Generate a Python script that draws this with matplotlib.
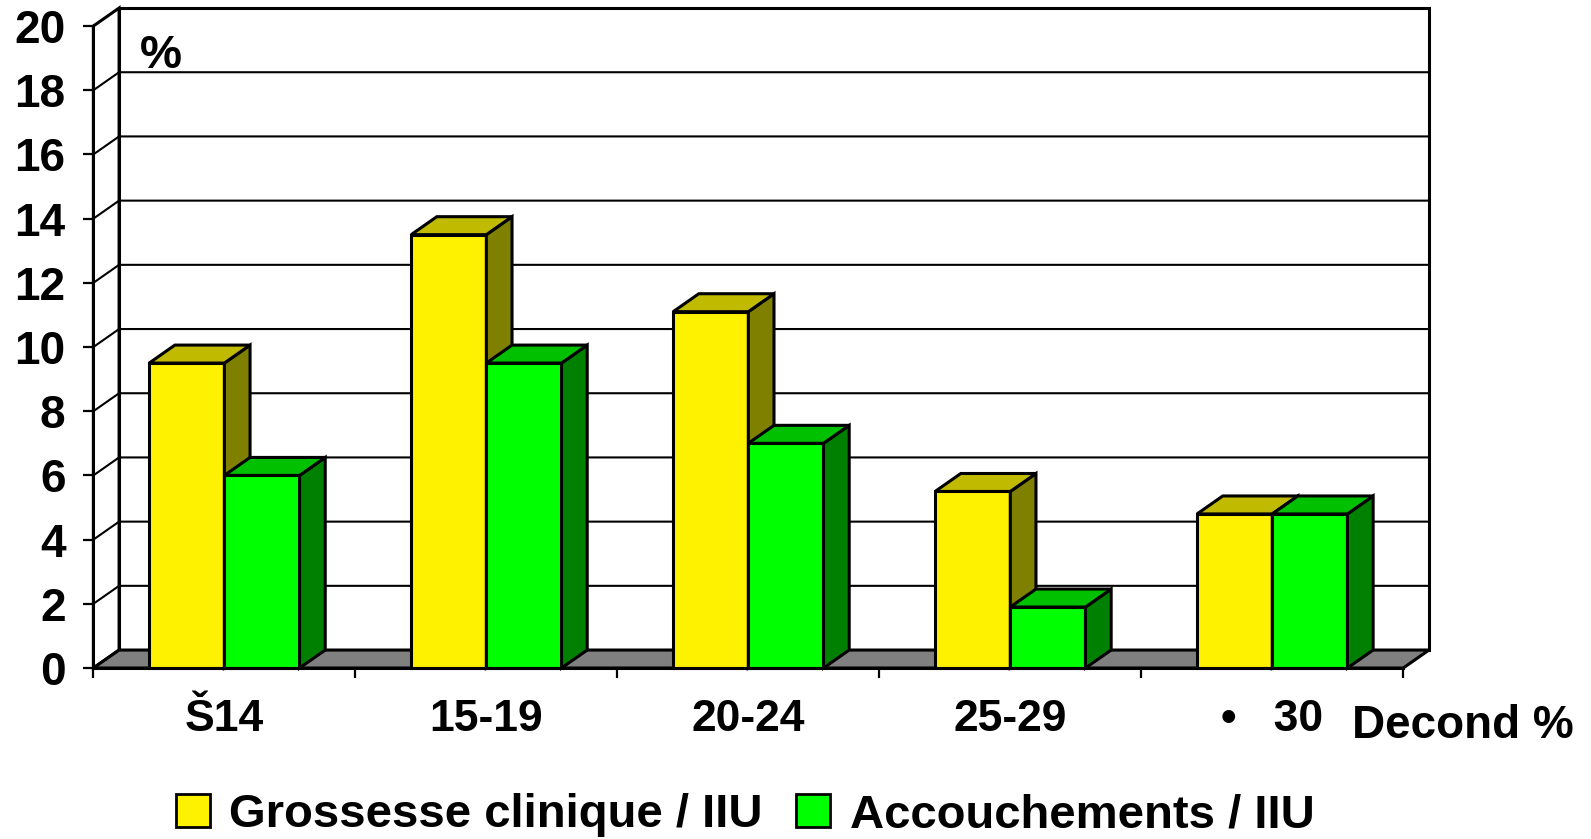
import matplotlib
matplotlib.use("Agg")
import matplotlib.pyplot as plt
from matplotlib.patches import Polygon, Patch
import numpy as np

# Données
categories = ["Š14", "15-19", "20-24", "25-29", "•   30"]
grossesse = [9.5, 13.5, 11.1, 5.5, 4.8]
accouchements = [6.0, 9.5, 7.0, 1.9, 4.8]
y_ticks = list(range(0, 21, 2))
series_labels = ["Grossesse clinique / IIU", "Accouchements / IIU"]

plt.rcParams["font.family"] = ["Liberation Sans", "DejaVu Sans"]
plt.rcParams["font.weight"] = "bold"

# couleurs : face avant, dessus, côté
couleurs = [
    ("#FFF200", "#C0BA00", "#808000"),
    ("#00FF00", "#00C000", "#008000"),
]

DX, DY = 0.098, 0.56      # décalage de profondeur (effet 3D)
LARG = 0.287              # largeur d'une barre
DEBUT = 0.213             # marge gauche dans chaque catégorie
LW = 2.2

fig = plt.figure(figsize=(15.91, 8.39), dpi=100)
ax = fig.add_axes([0.0587, 0.2038, 0.8233, 0.7652])
ax.patch.set_visible(False)
n = len(categories)
ymax = y_ticks[-1]
ax.set_xlim(0, n)
ax.set_ylim(0, ymax)


def poly(pts, fc, z):
    p = Polygon(pts, closed=True, facecolor=fc, edgecolor="black",
                linewidth=LW, joinstyle="miter", clip_on=False, zorder=z)
    ax.add_patch(p)


# murs du fond et de gauche
poly([(DX, DY), (n + DX, DY), (n + DX, ymax + DY), (DX, ymax + DY)], "white", 1)
poly([(0, 0), (DX, DY), (DX, ymax + DY), (0, ymax)], "white", 1)

# lignes de quadrillage
for t in y_ticks[1:-1]:
    ax.plot([0, DX, n + DX], [t, t + DY, t + DY], color="black",
            linewidth=1.5, clip_on=False, zorder=2)

# plancher
poly([(0, 0), (n, 0), (n + DX, DY), (DX, DY)], "#808080", 3)

# barres
z = 4
for i in range(n):
    for j, vals in enumerate([grossesse, accouchements]):
        h = vals[i]
        x0 = i + DEBUT + j * LARG
        x1 = x0 + LARG
        face, dessus, cote = couleurs[j]
        poly([(x0, 0), (x1, 0), (x1, h), (x0, h)], face, z)
        poly([(x1, 0), (x1 + DX, DY), (x1 + DX, h + DY), (x1, h)], cote, z)
        poly([(x0, h), (x1, h), (x1 + DX, h + DY), (x0 + DX, h + DY)], dessus, z)
        z += 1

# axes
for s in ["top", "right"]:
    ax.spines[s].set_visible(False)
for s in ["left", "bottom"]:
    ax.spines[s].set_linewidth(LW)
    ax.spines[s].set_zorder(50)

ax.set_yticks(y_ticks)
ax.tick_params(axis="y", direction="out", length=7, width=1.6, pad=13,
               labelsize=33)
ax.set_xticks(range(n + 1))
ax.set_xticklabels([])
ax.set_xticks(np.arange(n) + 0.5, minor=True)
ax.set_xticklabels(categories, minor=True)
ax.tick_params(axis="x", which="major", direction="out", length=7, width=1.6)
ax.tick_params(axis="x", which="minor", length=0, pad=22.5, labelsize=32)

fig.text(0.088, 0.919, "%", fontsize=34, va="baseline")
fig.text(0.8498, 0.1204, "Decond %", fontsize=33, va="baseline")

handles = [Patch(facecolor=c[0], edgecolor="black", linewidth=2) for c in couleurs]
fig.legend(handles, series_labels, loc="center",
           bbox_to_anchor=(745 / 1591, (839 - 815) / 839), ncol=2,
           frameon=False, fontsize=34, handlelength=0.72, handleheight=0.72,
           handletextpad=0.42, columnspacing=0.7, borderpad=0)

fig.savefig("out.png", dpi=100)
